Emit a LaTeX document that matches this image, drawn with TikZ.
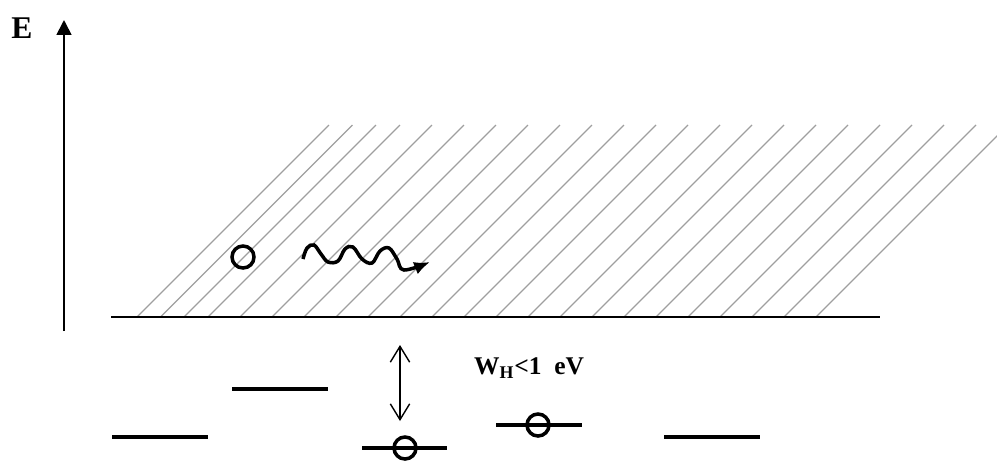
\documentclass[tikz,border=0pt]{standalone}
\usepackage{fontspec}
\setmainfont{Liberation Serif}
\usetikzlibrary{arrows.meta, positioning}

\begin{document}
\begin{tikzpicture}[x=0.02cm, y=-0.02cm, font=\bfseries,
  level/.style={line width=2.3pt},
  hole/.style={circle, draw, line width=2pt, inner sep=0pt, minimum size=0.44cm}]
\useasboundingbox (0,0) rectangle (997,461);
% energy axis
\coordinate (axisbot) at (64,331); \coordinate (axistop) at (64,20);
\draw[line width=1pt, -{Triangle[length=8.5pt, width=8.5pt]}] (axisbot) -- (axistop);
\node[font=\fontsize{18}{18}\selectfont\bfseries] (elabel) at (22,28) {E};
% band edge and hatching
\coordinate (edgeL) at (111,317); \coordinate (edgeR) at (880,317);
\foreach \x in {137,160.5,184,208,240,272,304,336,368,400,432,464,496,528,560,592,624,656,688,720,752,784,816} { \draw[gray!75, line width=0.75pt] (\x,317) -- ++(192,-192); }
\draw[line width=0.9pt] (edgeL) -- (edgeR);
% free carrier and its path
\node[hole] (free) at (243,257) {};
\draw[line width=2pt, -{Latex[length=9pt, width=7.5pt]}] plot[smooth, tension=0.6] coordinates {(303,259) (307,248) (314,245) (321,254) (328,262) (338,261) (345,249) (353,247) (362,259) (372,263) (380,251) (389,248) (397,259) (404,270) (430,262)};
% localized levels
\foreach \a/\b/\y/\n in {112/208/437/lvA, 232/328/389/lvB, 362/447/448/lvC, 496/582/425/lvD, 664/760/437/lvE} {
  \coordinate (\n l) at (\a,\y); \coordinate (\n r) at (\b,\y);
  \draw[level] (\n l) -- (\n r);
}
\node[hole] (holeC) at (405,448) {};
\node[hole] (holeD) at (538,425) {};
% hopping energy
\coordinate (hopT) at (400,345); \coordinate (hopB) at (400,421);
\draw[line width=0.8pt, {Straight Barb[length=9pt, width=11pt]}-{Straight Barb[length=9pt, width=11pt]}] (hopT) -- (hopB);
\node[anchor=west, font=\fontsize{14.5}{14.5}\selectfont\bfseries] (wh) at (468,368) {W\textsubscript{H}<1~~eV};
\end{tikzpicture}
\end{document}
